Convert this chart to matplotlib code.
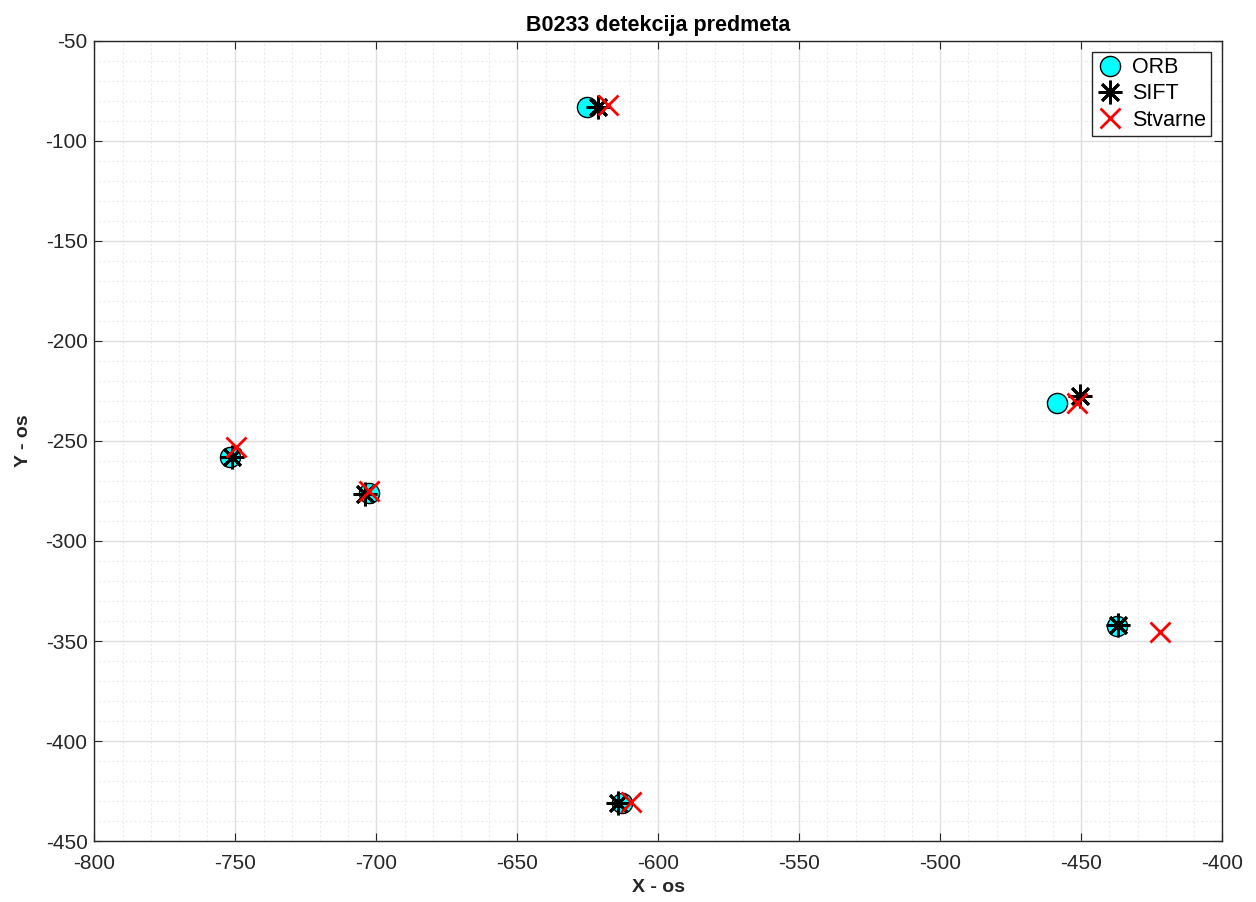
import matplotlib
matplotlib.use("Agg")
import matplotlib.pyplot as plt
from matplotlib.ticker import MultipleLocator

plt.rcParams["font.family"] = ["Liberation Sans", "DejaVu Sans"]
plt.rcParams["axes.unicode_minus"] = False

# ORB detekcije
orb_x = [-625.4, -458.7, -752.0, -702.7, -437.1, -613.0]
orb_y = [-82.8, -230.8, -257.8, -275.8, -342.3, -430.8]
# SIFT detekcije
sift_x = [-621.5, -450.5, -751.2, -704.1, -436.8, -614.4]
sift_y = [-82.8, -227.5, -258.0, -276.3, -342.0, -430.8]
# stvarne pozicije
true_x = [-617.9, -451.6, -749.8, -702.7, -421.9, -609.8]
true_y = [-81.8, -230.8, -252.8, -275.0, -345.4, -430.6]

ink = "#262626"

fig = plt.figure(figsize=(12.56, 9.02), dpi=100)
ax = fig.add_axes([0.0752, 0.0676, 0.8978, 0.887])

ax.plot(orb_x, orb_y, linestyle="none", marker="o", markersize=14.5,
        markerfacecolor="cyan", markeredgecolor="black", markeredgewidth=1,
        label="ORB", zorder=3)
ax.plot(sift_x, sift_y, linestyle="none", marker=(8, 2, 0), markersize=17,
        color="black", markeredgewidth=2, label="SIFT", zorder=4)
ax.plot(true_x, true_y, linestyle="none", marker="x", markersize=14,
        color="red", markeredgewidth=2, label="Stvarne", zorder=5)

ax.set_xlim(-800, -400)
ax.set_ylim(-450, -50)
ax.xaxis.set_major_locator(MultipleLocator(50))
ax.yaxis.set_major_locator(MultipleLocator(50))
ax.xaxis.set_minor_locator(MultipleLocator(10))
ax.yaxis.set_minor_locator(MultipleLocator(10))

ax.grid(True, which="major", color="#dedede", linewidth=1, linestyle="-")
ax.grid(True, which="minor", color="#ebebeb", linewidth=0.8, linestyle=(0, (2, 2)))
ax.set_axisbelow(True)

ax.tick_params(which="both", direction="in", top=True, right=True,
               colors=ink, labelsize=15)
ax.tick_params(which="major", length=6)
ax.tick_params(which="minor", length=0)
ax.tick_params(axis="x", which="major", pad=9)
ax.tick_params(axis="y", which="major", pad=5)
for s in ax.spines.values():
    s.set_color(ink)
    s.set_linewidth(1)

ax.set_title("B0233 detekcija predmeta", fontsize=15.5, fontweight="bold",
             color="black", pad=7)
ax.set_xlabel("X - os", fontsize=14, fontweight="bold", color=ink, labelpad=5)
ax.set_ylabel("Y - os", fontsize=14, fontweight="bold", color=ink, labelpad=10)

leg = ax.legend(loc="upper right", fontsize=15.5, fancybox=False, framealpha=1,
                edgecolor=ink, borderaxespad=0.5, handletextpad=0.4,
                borderpad=0.25, labelspacing=0.25, handlelength=1.2)
leg.get_frame().set_linewidth(1)

fig.savefig("out.png", dpi=100, facecolor="white")
